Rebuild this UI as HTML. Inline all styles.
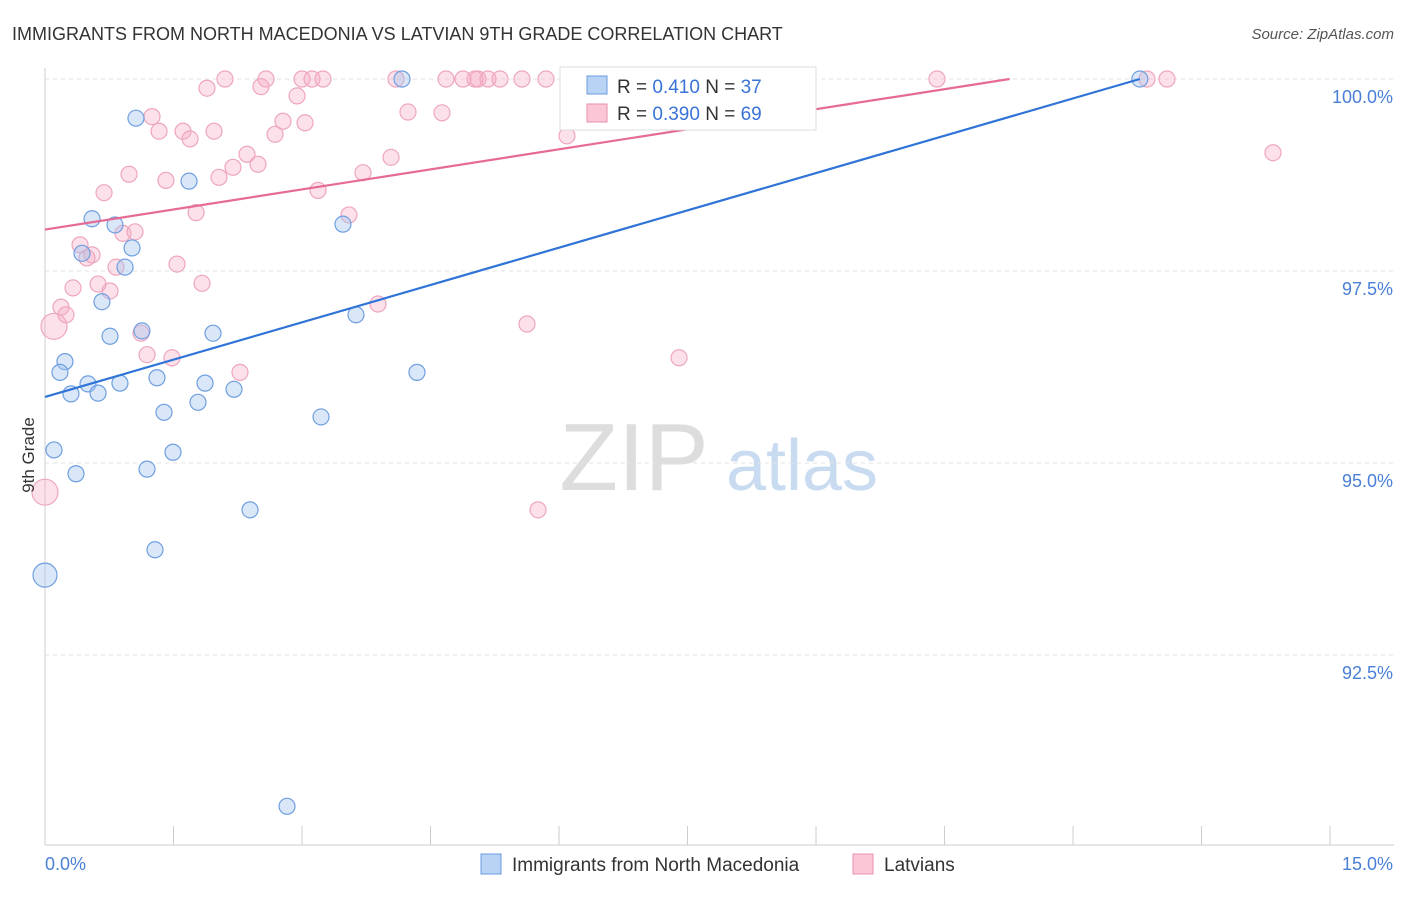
<!DOCTYPE html>
<html><head><meta charset="utf-8"><style>
body{margin:0;background:#fff;font-family:"Liberation Sans",sans-serif}
svg text{font-family:"Liberation Sans",sans-serif}
</style></head><body>
<svg id="c" width="1406" height="892" xmlns="http://www.w3.org/2000/svg">
<text x="12" y="40" font-size="18" fill="#333">IMMIGRANTS FROM NORTH MACEDONIA VS LATVIAN 9TH GRADE CORRELATION CHART</text>
<text x="1394" y="39" font-size="15" fill="#555" text-anchor="end" font-style="italic">Source: ZipAtlas.com</text>
<g><text x="634" y="490" font-size="96" fill="#ddd" text-anchor="middle" font-family="Liberation Serif,serif">ZIP</text><text x="802" y="490" font-size="72" fill="#c9dbf0" text-anchor="middle">atlas</text></g>
<g id="grid"></g><g id="axes"></g><g id="pts"></g><g id="lines"></g>
<text x="34" y="455" font-size="17" fill="#333" text-anchor="middle" transform="rotate(-90 34 455)">9th Grade</text>
<g>
<rect x="560" y="67" width="256" height="63" fill="#fff" stroke="#ddd"/>
<rect x="587" y="76" width="20" height="18" fill="#b9d3f5" stroke="#6a9be0"/>
<text x="617" y="93" font-size="19" fill="#333">R = <tspan fill="#3a73d8">0.410</tspan>   N = <tspan fill="#3a73d8">37</tspan></text>
<rect x="587" y="104" width="20" height="18" fill="#fbc7d6" stroke="#ea8fab"/>
<text x="617" y="120" font-size="19" fill="#333">R = <tspan fill="#3a73d8">0.390</tspan>   N = <tspan fill="#3a73d8">69</tspan></text>
</g>
<g>
<rect x="481" y="854" width="20" height="20" fill="#b9d3f5" stroke="#6a9be0"/>
<text x="512" y="871" font-size="19" fill="#333">Immigrants from North Macedonia</text>
<rect x="853" y="854" width="20" height="20" fill="#fbc7d6" stroke="#ea8fab"/>
<text x="884" y="871" font-size="19" fill="#333">Latvians</text>
</g>
</svg>
<script>
const blueX=[1.062,1.681,0.549,0.817,1.016,0.432,0.934,0.665,0.759,1.132,1.961,0.233,0.175,1.307,0.502,0.875,1.868,0.303,0.619,2.206,1.786,1.389,3.222,3.478,3.630,4.342,0.105,1.494,0.362,1.191,2.393,1.284,0,2.825,4.167,8.066,12.78];
const blueY=[99.49,98.67,98.18,98.10,97.80,97.73,97.55,97.10,96.65,96.72,96.69,96.32,96.18,96.11,96.03,96.04,96.04,95.90,95.91,95.96,95.79,95.66,95.60,98.11,96.93,96.18,95.17,95.14,94.86,94.92,94.39,93.87,93.54,90.53,100,100,100];
const blueR=[8,8,8,8,8,8,8,8,8,8,8,8,8,8,8,8,8,8,8,8,8,8,8,8,8,8,8,8,8,8,8,8,12,8,8,8,8];
const pinkX=[2.101,2.580,3.000,3.117,3.245,4.097,4.681,4.879,5.054,5.171,5.311,5.568,5.848,7.972,10.412,12.863,13.097,7.902,5.019,1.891,2.521,2.942,4.237,4.634,1.249,1.331,1.611,1.973,1.693,2.778,2.685,3.035,6.093,14.334,2.358,2.486,2.194,4.039,0.981,1.412,2.031,3.712,0.689,3.187,1.763,3.548,0.910,1.051,0.409,0.549,0.490,0.829,1.541,0.619,1.833,0.759,0.327,0.187,0.245,0.105,3.887,5.626,1.121,1.191,1.482,2.276,7.401,0,5.755];
const pinkY=[100,100,100,100,100,100,100,100,100,100,100,100,100,100,100,100,100,100,100,99.88,99.90,99.78,99.57,99.56,99.51,99.32,99.32,99.32,99.22,99.45,99.28,99.43,99.26,99.04,99.02,98.89,98.85,98.98,98.76,98.68,98.72,98.78,98.52,98.55,98.26,98.23,97.99,98.01,97.84,97.71,97.67,97.55,97.59,97.33,97.34,97.24,97.28,97.03,96.93,96.78,97.07,96.81,96.69,96.41,96.37,96.18,96.37,94.62,94.39];
const bigPink=[59,67];
const yTicks=[100,97.5,95,92.5];
const yTickLabels=["100.0%","97.5%","95.0%","92.5%"];
const blueLine=[[0,95.86],[12.78,100]];
const pinkLine=[[0,98.04],[11.26,100]];
const NS="http://www.w3.org/2000/svg";
const sx=v=>45+v*85.67, sy=v=>79+(100-v)*76.8;
function mk(t,a,p){const e=document.createElementNS(NS,t);for(const k in a)e.setAttribute(k,a[k]);p.appendChild(e);return e;}
const g=document.getElementById('grid'),ax=document.getElementById('axes'),pts=document.getElementById('pts'),ln=document.getElementById('lines');
yTicks.forEach((t,i)=>{const l=mk('line',{x1:45,x2:1394,y1:sy(t),y2:sy(t),stroke:'#e3e3e3','stroke-dasharray':'4,4'},g);


const tx=mk('text',{x:1393,y:sy(t)+24,'font-size':18,fill:'#4a7fd6','text-anchor':'end'},g);tx.textContent=yTickLabels[i];

});
const xa=mk('line',{x1:45,x2:1394,y1:845,y2:845,stroke:'#ccc'},ax);


const ya=mk('line',{x1:45,x2:45,y1:68,y2:845,stroke:'#ccc'},ax);


for(let i=0;i<=10;i++){const t=mk('line',{x1:sx(i*1.5),x2:sx(i*1.5),y1:826,y2:845,stroke:'#ccc'},ax);

}
const x0=mk('text',{x:45,y:870,'font-size':18,fill:'#4a7fd6'},ax);x0.textContent='0.0%';


const x1=mk('text',{x:1393,y:870,'font-size':18,fill:'#4a7fd6','text-anchor':'end'},ax);x1.textContent='15.0%';


pinkX.forEach((x,i)=>{const c=mk('circle',{cx:sx(x),cy:sy(pinkY[i]),r:bigPink.includes(i)?13:8,fill:'rgba(246,170,195,0.35)',stroke:'#eea6bd','stroke-width':1.2},pts);

});
blueX.forEach((x,i)=>{const c=mk('circle',{cx:sx(x),cy:sy(blueY[i]),r:blueR[i],fill:'rgba(160,195,240,0.4)',stroke:'#6f9fe0','stroke-width':1.2},pts);

});
const bl=mk('line',{x1:sx(blueLine[0][0]),y1:sy(blueLine[0][1]),x2:sx(blueLine[1][0]),y2:sy(blueLine[1][1]),stroke:'#2f74d6','stroke-width':2.2},ln);


const pl=mk('line',{x1:sx(pinkLine[0][0]),y1:sy(pinkLine[0][1]),x2:sx(pinkLine[1][0]),y2:sy(pinkLine[1][1]),stroke:'#e56a94','stroke-width':2.2},ln);


</script>
</body></html>
